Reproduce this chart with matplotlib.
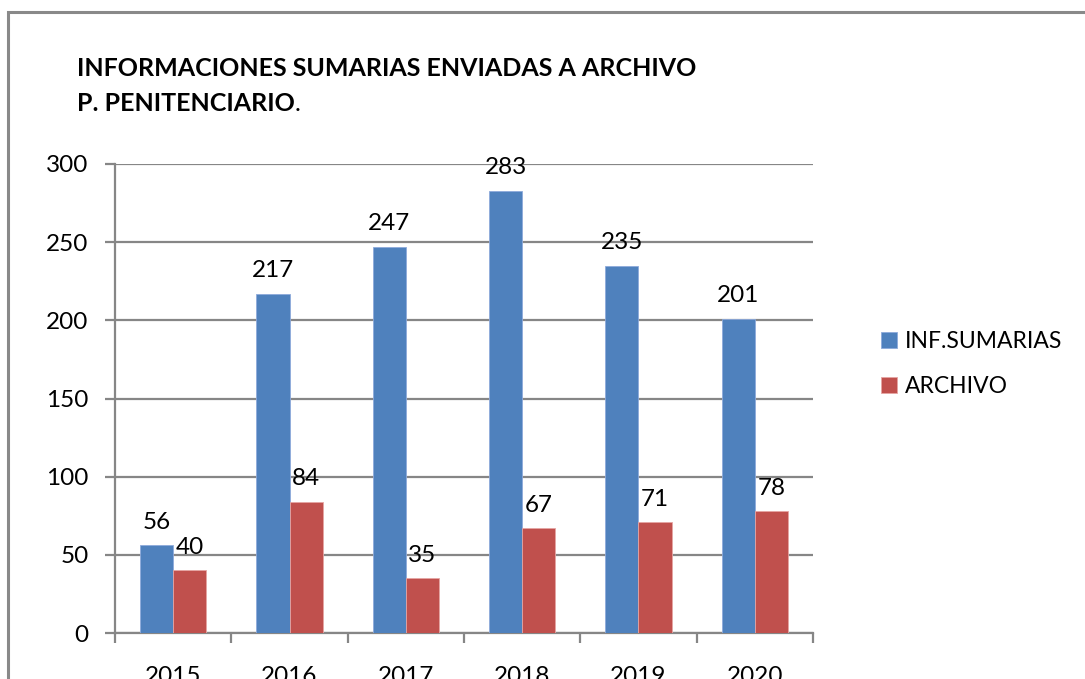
import matplotlib
matplotlib.use("Agg")
import matplotlib.pyplot as plt
from matplotlib.patches import Rectangle
import numpy as np

years = ["2015", "2016", "2017", "2018", "2019", "2020"]
inf_sumarias = [56, 217, 247, 283, 235, 201]
archivo = [40, 84, 35, 67, 71, 78]

plt.rcParams['font.family'] = ['Lato', 'DejaVu Sans']

W, H = 1085, 679
fig = plt.figure(figsize=(W/100, H/100), dpi=100)
fig.patch.set_facecolor('white')

# outer frame
fig.patches.append(Rectangle((8/W, -0.1), 1.2, 1 - 12/H + 0.1, transform=fig.transFigure,
                             fill=False, edgecolor='#898989', linewidth=2.2))

ax = fig.add_axes([115/W, 1 - 633/H, (813-115)/W, (633-164)/H])
x = np.arange(len(years))
bw = 1/3.5
blue = '#4F81BD'
red = '#C0504D'
b1 = ax.bar(x - bw/2, inf_sumarias, bw, color=blue, edgecolor='#8EAADB', linewidth=0.6, label='INF.SUMARIAS', zorder=3)
b2 = ax.bar(x + bw/2, archivo, bw, color=red, edgecolor='#E6A5A3', linewidth=0.6, label='ARCHIVO', zorder=3)

for rect, v in zip(b1, inf_sumarias):
    ax.annotate(str(v), (rect.get_x() + rect.get_width()/2, v), xytext=(0, 9),
                textcoords='offset points', ha='center', va='bottom', fontsize=17.5, color='black')
for rect, v in zip(b2, archivo):
    ax.annotate(str(v), (rect.get_x() + rect.get_width()/2, v), xytext=(0, 9),
                textcoords='offset points', ha='center', va='bottom', fontsize=17.5, color='black')

ax.set_xlim(-0.5, len(years) - 0.5)
ax.set_ylim(0, 300)
ax.set_yticks([0, 50, 100, 150, 200, 250, 300])
ax.yaxis.grid(True, color='#868686', linewidth=1.6, zorder=0)
ax.set_axisbelow(True)
for s in ['top', 'right']:
    ax.spines[s].set_visible(False)
for s in ['left', 'bottom']:
    ax.spines[s].set_color('#868686')
    ax.spines[s].set_linewidth(1.6)

ax.set_xticks(np.arange(len(years) + 1) - 0.5, minor=False)
ax.set_xticklabels([])
ax.tick_params(axis='x', which='major', length=7, width=1.6, color='#868686', direction='out')
ax.set_xticks(x, minor=True)
ax.set_xticklabels(years, minor=True, fontsize=17.5)
ax.tick_params(axis='x', which='minor', length=0, pad=24)
ax.tick_params(axis='y', length=7, width=1.6, color='#868686', labelsize=17.5, pad=12)

fig.text(77/W, 1 - 57/H, "INFORMACIONES SUMARIAS ENVIADAS A ARCHIVO", fontsize=18,
         fontweight='bold', ha='left', va='top')
t2 = fig.text(77/W, 1 - 92/H, "P. PENITENCIARIO", fontsize=18, fontweight='bold', ha='left', va='top')
fig.canvas.draw()
bb = t2.get_window_extent()
fig.text(bb.x1 / W, 1 - 92/H, ".", fontsize=18, ha='left', va='top')

leg = fig.legend(handles=[b1, b2], loc='upper left', bbox_to_anchor=(872/W, 1 - 322/H),
                 frameon=False, fontsize=16.5, handlelength=0.7, handleheight=0.7,
                 handletextpad=0.35, labelspacing=1.05, borderaxespad=0)

fig.savefig('out.png', dpi=100, facecolor='white')
